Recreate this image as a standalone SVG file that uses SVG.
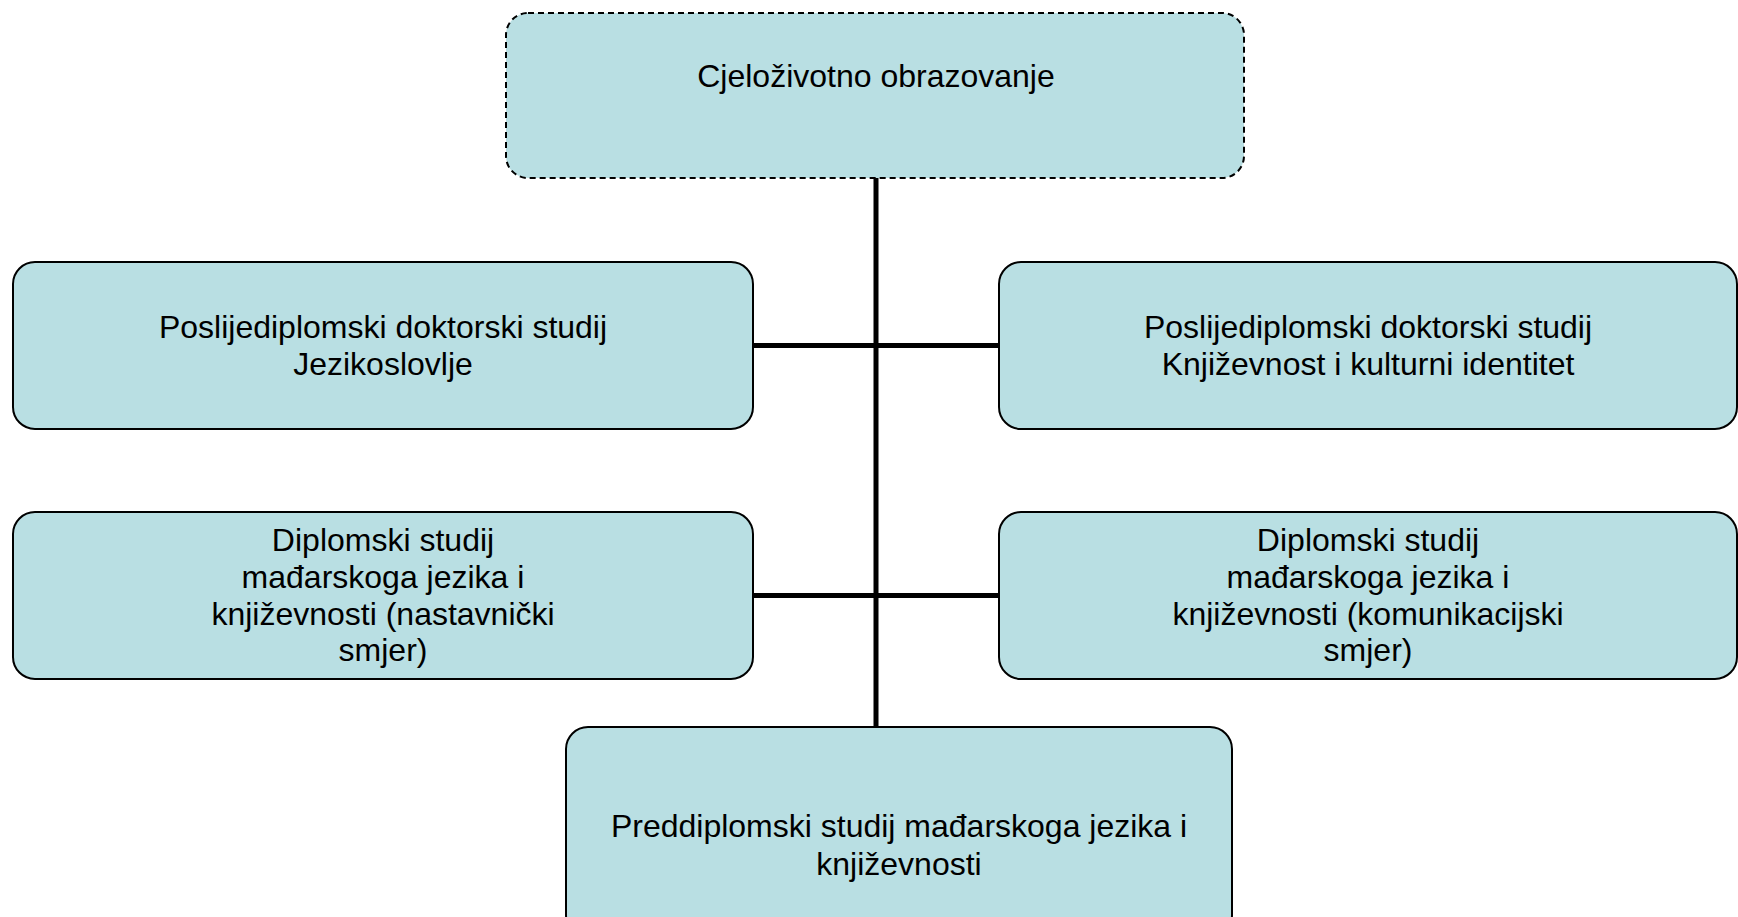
<svg xmlns="http://www.w3.org/2000/svg" width="1738" height="917" viewBox="0 0 1738 917">
  <style>
    .box { fill: #b9dfe3; stroke: #000; stroke-width: 2; }
    .dashed { stroke-dasharray: 6 4; }
    .lbl { font-family: "Liberation Sans", Arial, sans-serif; font-size: 32px; fill: #000; text-anchor: middle; }
    .conn { stroke: #000; stroke-width: 5; fill: none; }
  </style>
  <rect width="1738" height="917" fill="#fff"/>

  <!-- connectors -->
  <g id="connectors">
    <line class="conn" x1="876" y1="178" x2="876" y2="732"/>
    <line class="conn" x1="753" y1="345.5" x2="999" y2="345.5"/>
    <line class="conn" x1="753" y1="595.5" x2="999" y2="595.5"/>
  </g>

  <g id="node-lifelong">
    <rect class="box dashed" x="506" y="13" width="738" height="165" rx="22"/>
    <text class="lbl" x="876" y="87">Cjeloživotno obrazovanje</text>
  </g>

  <g id="node-phd-linguistics">
    <rect class="box" x="13" y="262" width="740" height="167" rx="22"/>
    <text class="lbl" x="383" y="338">Poslijediplomski doktorski studij</text>
    <text class="lbl" x="383" y="375">Jezikoslovlje</text>
  </g>

  <g id="node-phd-literature">
    <rect class="box" x="999" y="262" width="738" height="167" rx="22"/>
    <text class="lbl" x="1368" y="338">Poslijediplomski doktorski studij</text>
    <text class="lbl" x="1368" y="375">Književnost i kulturni identitet</text>
  </g>

  <g id="node-ma-teaching">
    <rect class="box" x="13" y="512" width="740" height="167" rx="22"/>
    <text class="lbl" x="383" y="551">Diplomski studij</text>
    <text class="lbl" x="383" y="588">mađarskoga jezika i</text>
    <text class="lbl" x="383" y="625">književnosti (nastavnički</text>
    <text class="lbl" x="383" y="661">smjer)</text>
  </g>

  <g id="node-ma-communication">
    <rect class="box" x="999" y="512" width="738" height="167" rx="22"/>
    <text class="lbl" x="1368" y="551">Diplomski studij</text>
    <text class="lbl" x="1368" y="588">mađarskoga jezika i</text>
    <text class="lbl" x="1368" y="625">književnosti (komunikacijski</text>
    <text class="lbl" x="1368" y="661">smjer)</text>
  </g>

  <g id="node-ba">
    <rect class="box" x="566" y="727" width="666" height="210" rx="22"/>
    <text class="lbl" x="899" y="837">Preddiplomski studij mađarskoga jezika i</text>
    <text class="lbl" x="899" y="875">književnosti</text>
  </g>
</svg>
